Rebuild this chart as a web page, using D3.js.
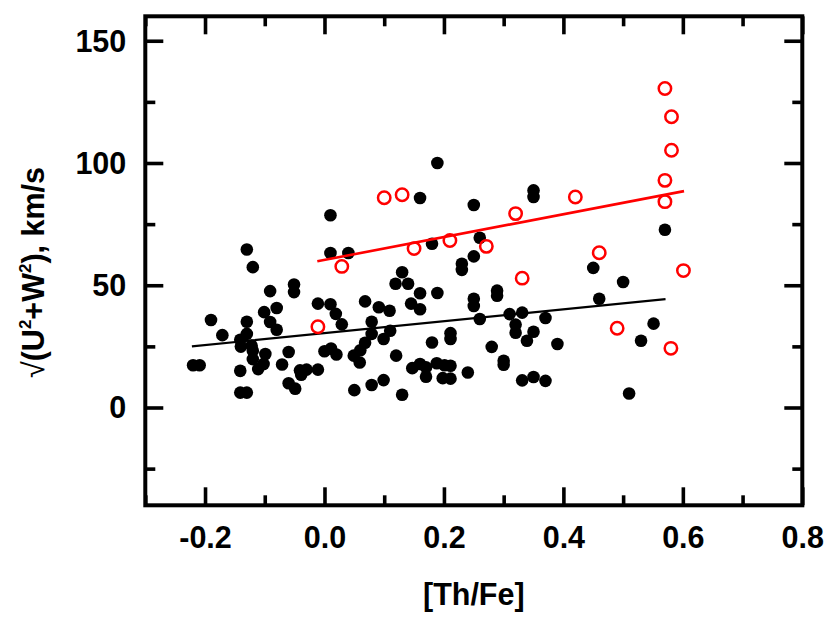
<!DOCTYPE html>
<html>
<head>
<meta charset="utf-8">
<script src="https://cdn.jsdelivr.net/npm/d3@7"></script>
<style>
  html, body { margin: 0; padding: 0; background: #fff; }
  svg { display: block; }
  text { font-family: "Liberation Sans", Arial, sans-serif; }
</style>
</head>
<body>
<svg id="chart" width="831" height="624"></svg>
<script>
// ---- Data ----
const blackX = [-0.220,-0.209,-0.190,-0.171,-0.130,-0.120,-0.130,-0.130,-0.141,-0.140,-0.122,-0.120,-0.099,-0.120,-0.102,-0.111,-0.141,-0.141,-0.130,
  -0.091,-0.101,-0.080,-0.091,-0.080,-0.060,-0.071,-0.051,-0.051,-0.041,-0.030,-0.039,-0.011,-0.060,-0.049,-0.011,
  0.010,0.010,0.040,0.010,0.019,0.029,0.068,0.000,0.011,0.020,0.050,0.049,0.059,0.068,0.060,0.079,0.079,0.091,0.109,0.099,0.110,0.120,
  0.130,0.119,0.140,0.160,0.189,0.145,0.160,0.099,0.079,0.130,0.147,0.160,0.170,0.170,0.188,0.201,0.198,0.211,0.211,0.180,0.211,0.211,
  0.189,0.160,0.250,0.180,0.260,0.250,0.230,0.230,0.250,0.250,0.289,0.289,0.260,0.310,0.331,0.370,0.320,0.320,0.350,0.339,0.390,0.280,
  0.300,0.300,0.240,0.331,0.350,0.370,0.350,0.350,0.450,0.500,0.570,0.460,0.551,0.530,0.510];
const blackY = [17.3,17.3,35.8,29.6,64.6,57.4,35.1,30.1,27.7,24.9,25.3,23.2,21.9,19.8,17.8,15.7,15.0,6.1,6.1,
  47.6,39.0,40.7,35.0,31.8,22.7,17.6,50.3,47.2,15.2,15.5,13.4,15.5,9.9,7.7,42.5,
  78.6,63.2,63.2,42.2,38.3,34.0,43.4,23.0,24.1,21.7,7.1,21.2,18.4,26.5,23.4,30.1,35.1,41.0,39.6,28.0,31.4,21.2,
  55.3,50.6,50.6,46.7,46.8,42.5,40.2,11.2,9.2,5.2,16.1,17.8,16.4,12.6,18.1,17.3,12.0,17.1,11.8,26.6,30.4,28.0,
  100.0,85.7,82.8,67.0,69.4,61.8,58.8,56.3,44.5,41.5,47.8,45.7,36.2,38.2,38.8,36.6,33.9,30.6,31.0,27.3,26.0,24.8,
  19.1,17.5,14.3,11.1,12.5,10.9,88.8,86.1,57.1,51.3,72.7,44.5,34.3,27.3,5.7];

const redX = [-0.011,0.029,0.100,0.130,0.150,0.210,0.271,0.320,0.331,0.420,0.460,0.490,0.570,0.581,0.581,0.570,0.570,0.601,0.580];
const redY = [33.0,57.7,85.8,87.0,65.0,68.3,65.9,79.3,52.9,86.1,63.3,32.4,130.5,118.9,105.2,92.9,84.2,56.0,24.2];

// linear fits (end points)
const blackFitX = [-0.222, 0.571];
const blackFitY = [25.0, 44.3];
const redFitX = [-0.012, 0.602];
const redFitY = [59.8, 88.5];

const xTicks = [-0.2, 0.0, 0.2, 0.4, 0.6, 0.8];
const xMinor = [-0.3, -0.1, 0.1, 0.3, 0.5, 0.7];
const yTicks = [0, 50, 100, 150];
const yMinor = [-25, 25, 75, 125];

const xLabel = "[Th/Fe]";

// ---- Layout ----
const svg = d3.select("#chart");
const L = 145.3, R = 802.3, T = 16.3, B = 505.3;
const x = d3.scaleLinear().domain([-0.3, 0.8]).range([L, R]);
const y = d3.scaleLinear().domain([-40, 160]).range([B, T]);

svg.append("rect").attr("width", 831).attr("height", 624).attr("fill", "#fff");

const font = "bold 30.5px 'Liberation Sans', Arial, sans-serif";
const MAJ = 18, MIN = 10, TW = 3.6;

function styleAxis(g, showText) {
  g.select(".domain").remove();
  g.selectAll(".tick line").attr("stroke", "#000").attr("stroke-width", TW);
  g.selectAll(".tick text").attr("fill", "#000").style("font", font);
  if (!showText) g.selectAll(".tick text").remove();
}

// bottom
svg.append("g").attr("transform", `translate(0,${B})`)
  .call(d3.axisBottom(x).tickValues(xTicks).tickSize(-MAJ).tickPadding(21.2).tickFormat(d3.format(".1f")))
  .call(g => styleAxis(g, true))
  .call(g => g.selectAll(".tick text").text(d => d3.format(".1f")(d).replace("−", "-")));
svg.append("g").attr("transform", `translate(0,${B})`)
  .call(d3.axisBottom(x).tickValues(xMinor).tickSize(-MIN).tickFormat(""))
  .call(g => styleAxis(g, false));
// top
svg.append("g").attr("transform", `translate(0,${T})`)
  .call(d3.axisTop(x).tickValues(xTicks).tickSize(-MAJ).tickFormat(""))
  .call(g => styleAxis(g, false));
svg.append("g").attr("transform", `translate(0,${T})`)
  .call(d3.axisTop(x).tickValues(xMinor).tickSize(-MIN).tickFormat(""))
  .call(g => styleAxis(g, false));
// left
svg.append("g").attr("transform", `translate(${L},0)`)
  .call(d3.axisLeft(y).tickValues(yTicks).tickSize(-MAJ).tickPadding(19).tickFormat(d3.format("d")))
  .call(g => styleAxis(g, true))
  .call(g => g.selectAll(".tick text").attr("dy", "0.34em"));
svg.append("g").attr("transform", `translate(${L},0)`)
  .call(d3.axisLeft(y).tickValues(yMinor).tickSize(-MIN).tickFormat(""))
  .call(g => styleAxis(g, false));
// right
svg.append("g").attr("transform", `translate(${R},0)`)
  .call(d3.axisRight(y).tickValues(yTicks).tickSize(-MAJ).tickFormat(""))
  .call(g => styleAxis(g, false));
svg.append("g").attr("transform", `translate(${R},0)`)
  .call(d3.axisRight(y).tickValues(yMinor).tickSize(-MIN).tickFormat(""))
  .call(g => styleAxis(g, false));

// frame
svg.append("rect")
  .attr("x", L).attr("y", T).attr("width", R - L).attr("height", B - T)
  .attr("fill", "none").attr("stroke", "#000").attr("stroke-width", 4);

// black dots
const blackData = blackX.map((v, i) => ({ x: v, y: blackY[i] }));
svg.append("g").selectAll("circle").data(blackData).join("circle")
  .attr("cx", d => x(d.x)).attr("cy", d => y(d.y)).attr("r", 6.3)
  .attr("fill", "#000");

// fit lines
const line = d3.line().x(d => x(d[0])).y(d => y(d[1]));
svg.append("path").datum(blackFitX.map((v, i) => [v, blackFitY[i]]))
  .attr("d", line).attr("fill", "none").attr("stroke", "#000").attr("stroke-width", 2.2);
svg.append("path").datum(redFitX.map((v, i) => [v, redFitY[i]]))
  .attr("d", line).attr("fill", "none").attr("stroke", "#ff0000").attr("stroke-width", 2.6);

// red open circles
const redData = redX.map((v, i) => ({ x: v, y: redY[i] }));
svg.append("g").selectAll("circle").data(redData).join("circle")
  .attr("cx", d => x(d.x)).attr("cy", d => y(d.y)).attr("r", 6.2)
  .attr("fill", "none").attr("stroke", "#ff0000").attr("stroke-width", 2.5);

// x label
svg.append("text").attr("x", (L + R) / 2).attr("y", 605)
  .attr("text-anchor", "middle").style("font", font).attr("fill", "#000")
  .text(xLabel);

// y label
const yl = svg.append("text")
  .attr("transform", "translate(43.5,272.5) rotate(-90)")
  .attr("text-anchor", "middle").style("font", font).attr("fill", "#000");
yl.append("tspan").style("font-weight", "normal").text("√");
yl.append("tspan").text("(U");
yl.append("tspan").style("font-size", "17px").attr("dy", -13).text("2");
yl.append("tspan").attr("dy", 13).text("+W");
yl.append("tspan").style("font-size", "17px").attr("dy", -13).text("2");
yl.append("tspan").attr("dy", 13).text("), km/s");
</script>
</body>
</html>
